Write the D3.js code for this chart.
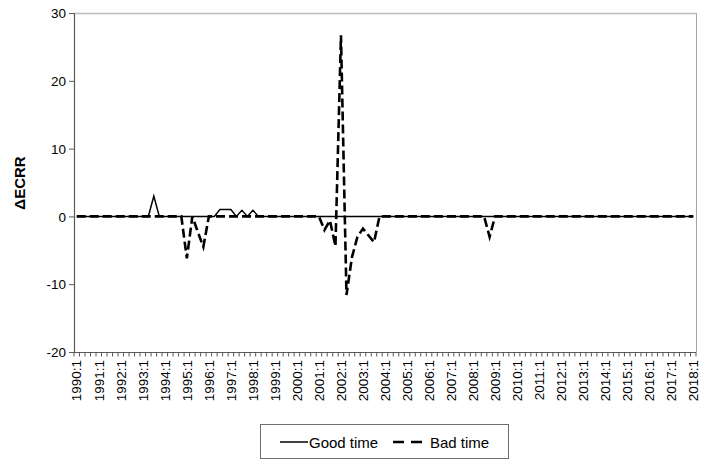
<!DOCTYPE html>
<html>
<head>
<meta charset="utf-8">
<script src="https://cdn.jsdelivr.net/npm/d3@7"></script>
<style>
  html, body { margin: 0; padding: 0; background: #ffffff; }
  svg { display: block; font-family: "Liberation Sans", Arial, sans-serif; }
</style>
</head>
<body>
<svg id="chart" width="710" height="464"></svg>
<script>
// ---- data ----
const tickLabels = ["1990:1","1991:1","1992:1","1993:1","1994:1","1995:1","1996:1","1997:1","1998:1","1999:1",
  "2000:1","2001:1","2002:1","2003:1","2004:1","2005:1","2006:1","2007:1","2008:1","2009:1",
  "2010:1","2011:1","2012:1","2013:1","2014:1","2015:1","2016:1","2017:1","2018:1"];

// quarterly categories 1990:1 .. 2018:1
const categories = [];
for (let yr = 1990; yr <= 2018; yr++) {
  for (let q = 1; q <= 4; q++) {
    if (yr === 2018 && q > 1) break;
    categories.push(yr + ":" + q);
  }
}

const goodTime = [
  0,0,0,0, 0,0,0,0, 0,0,0,0, 0,0,3,0,        // 1990-1993
  0,0,0,0, 0,0,0,0, 0,0,1,1, 1,0,0.9,0,      // 1994-1997
  0.9,0,0,0, 0,0,0,0, 0,0,0,0, 0,0,0,0,      // 1998-2001
  0,0,0,0, 0,0,0,0, 0,0,0,0, 0,0,0,0,        // 2002-2005
  0,0,0,0, 0,0,0,0, 0,0,0,0, 0,0,0,0,        // 2006-2009
  0,0,0,0, 0,0,0,0, 0,0,0,0, 0,0,0,0,        // 2010-2013
  0,0,0,0, 0,0,0,0, 0,0,0,0, 0,0,0,0,        // 2014-2017
  0                                          // 2018:1
];

const badTime = [
  0,0,0,0, 0,0,0,0, 0,0,0,0, 0,0,0,0,              // 1990-1993
  0,0,0,0, -6.2,0,-2.3,-4.5, 0,0,0,0, 0,0,0,0,     // 1994-1997
  0,0,0,0, 0,0,0,0, 0,0,0,0, 0,-2,-0.6,-4.4,       // 1998-2001
  26.7,-11.6,-6,-3, -1.8,-2.8,-3.8,0, 0,0,0,0, 0,0,0,0, // 2002-2005
  0,0,0,0, 0,0,0,0, 0,0,0,-3, 0,0,0,0,             // 2006-2009
  0,0,0,0, 0,0,0,0, 0,0,0,0, 0,0,0,0,              // 2010-2013
  0,0,0,0, 0,0,0,0, 0,0,0,0, 0,0,0,0,              // 2014-2017
  0                                                // 2018:1
];

const yTicks = [-20, -10, 0, 10, 20, 30];
const seriesNames = ["Good time", "Bad time"];

// ---- layout ----
(function () {
const svg = d3.select("#chart");
const pL = 74, pR = 696, pT = 13, pB = 352;

const x = d3.scaleBand().domain(categories).range([pL, pR]).padding(0);
const y = d3.scaleLinear().domain([-20, 30]).range([pB, pT]);
const cx = d => x(d) + x.bandwidth() / 2;

svg.append("rect").attr("width", 710).attr("height", 464).attr("fill", "#ffffff");

// plot frame (top and right, light gray)
svg.append("line").attr("x1", pL).attr("x2", pR).attr("y1", pT + 0.5).attr("y2", pT + 0.5)
  .attr("stroke", "#bdbdbd").attr("stroke-width", 1.5);
svg.append("line").attr("x1", pR + 0.5).attr("x2", pR + 0.5).attr("y1", pT).attr("y2", pB)
  .attr("stroke", "#a6a6a6").attr("stroke-width", 1);

// y axis
const yAxis = d3.axisLeft(y).tickValues(yTicks).tickSize(5).tickPadding(3).tickFormat(d => String(d));
const gy = svg.append("g").attr("transform", `translate(${pL},0)`).call(yAxis);
gy.select(".domain").attr("stroke", "#595959").attr("stroke-width", 1.2);
gy.selectAll(".tick line").attr("stroke", "#595959");
gy.selectAll(".tick text").attr("font-size", "13.5px").attr("fill", "#000")
  .attr("font-family", "Liberation Sans, Arial, sans-serif");
gy.selectAll(".tick text").attr("dy", "0.35em");

// x axis
const boundaries = categories.map(c => x(c)).concat([pR]);
const gx = svg.append("g");
gx.append("line").attr("x1", pL).attr("x2", pR).attr("y1", pB + 0.5).attr("y2", pB + 0.5)
  .attr("stroke", "#595959").attr("stroke-width", 1.2);
gx.selectAll("line.xt").data(boundaries).enter().append("line").attr("class", "xt")
  .attr("x1", d => d).attr("x2", d => d).attr("y1", pB).attr("y2", pB + 4.5)
  .attr("stroke", "#595959").attr("stroke-width", 1);
gx.selectAll("text.xl").data(tickLabels).enter().append("text").attr("class", "xl")
  .attr("transform", d => `translate(${cx(d)},${pB + 8}) rotate(-90)`)
  .attr("text-anchor", "end").attr("dy", "0.35em")
  .attr("font-size", "13.5px").attr("fill", "#000")
  .text(d => d);

// y title
svg.append("text")
  .attr("transform", `translate(25,183) rotate(-90)`)
  .attr("text-anchor", "middle")
  .attr("font-size", "15px").attr("font-weight", "bold").attr("fill", "#000")
  .text("\u0394ECRR");

// lines
const line = d3.line().x((d, i) => cx(categories[i])).y(d => y(d));
svg.append("path").datum(goodTime).attr("d", line)
  .attr("fill", "none").attr("stroke", "#000").attr("stroke-width", 1.5).attr("stroke-linejoin", "miter");
svg.append("path").datum(badTime).attr("d", line)
  .attr("fill", "none").attr("stroke", "#000").attr("stroke-width", 2.6)
  .attr("stroke-dasharray", "9,4");

// legend
const lg = svg.append("g");
lg.append("rect").attr("x", 260.5).attr("y", 424.5).attr("width", 248).attr("height", 34)
  .attr("fill", "#fff").attr("stroke", "#6e6e6e").attr("stroke-width", 1);
lg.append("line").attr("x1", 280).attr("x2", 308).attr("y1", 442).attr("y2", 442)
  .attr("stroke", "#000").attr("stroke-width", 1.5);
lg.append("text").attr("x", 309).attr("y", 447.5).attr("font-size", "15px").attr("fill", "#000")
  .text(seriesNames[0]);
lg.append("line").attr("x1", 393).attr("x2", 428).attr("y1", 442).attr("y2", 442)
  .attr("stroke", "#000").attr("stroke-width", 2.6).attr("stroke-dasharray", "11,7");
lg.append("text").attr("x", 430).attr("y", 447.5).attr("font-size", "15px").attr("fill", "#000")
  .text(seriesNames[1]);
})();
</script>
</body>
</html>
